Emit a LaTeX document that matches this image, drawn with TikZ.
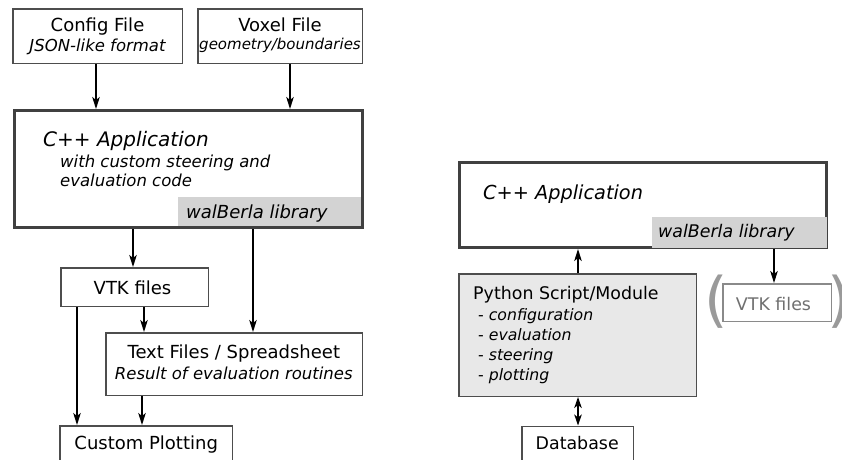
\documentclass[tikz,border=0pt]{standalone}
\usepackage{fontspec}
\setmainfont{DejaVu Sans}
\usetikzlibrary{arrows.meta}
\definecolor{edge}{HTML}{4D4D4D}
\definecolor{thickedge}{HTML}{404040}
\definecolor{libfill}{HTML}{D3D3D3}
\definecolor{pyfill}{HTML}{E8E8E8}
\definecolor{faintedge}{HTML}{8A8A8A}
\definecolor{fainttext}{HTML}{707070}
\definecolor{parengray}{HTML}{9A9A9A}
\newcommand\fsz[1]{\fontsize{#1}{#1}\selectfont}
\begin{document}
\begin{tikzpicture}[x=1pt,y=-1pt,
  box/.style={draw=edge,line width=1.5pt,fill=white,inner sep=0pt},
  thickbox/.style={draw=thickedge,line width=3pt,fill=white,inner sep=0pt},
  libbox/.style={fill=libfill,inner sep=0pt},
  pybox/.style={draw=edge,line width=1.5pt,fill=pyfill,inner sep=0pt},
  faintbox/.style={draw=faintedge,line width=1.5pt,fill=white,inner sep=0pt},
  lbl/.style={inner sep=0pt,anchor=base},
  lblw/.style={inner sep=0pt,anchor=base west},
  arr/.style={-{Stealth[length=12pt,width=7.5pt,inset=3pt]},line width=1.5pt,black},
  darr/.style={{Stealth[length=11pt,width=7.5pt,inset=3pt]}-{Stealth[length=11pt,width=7.5pt,inset=3pt]},line width=1.5pt,black}
]
\useasboundingbox (0,0) rectangle (842,459);
\clip (0,0) rectangle (842,459);
\fill[white] (0,0) rectangle (842,459);

% ---------------- left diagram ----------------
\node[box,minimum width=169.5pt,minimum height=54.5pt] (config) at (97.5,36) {};
\node[lbl,font=\fsz{18}] (configA) at (97.5,31.7) {Config File};
\node[lbl,font=\fsz{16.5}\itshape] (configB) at (97.5,51.7) {JSON-like format};

\node[box,minimum width=164.5pt,minimum height=54.5pt] (voxel) at (280,36) {};
\node[lbl,font=\fsz{18}] (voxelA) at (280,31.7) {Voxel File};
\node[lbl,font=\fsz{15}\itshape] (voxelB) at (280,49.3) {geometry/boundaries};

\node[thickbox,minimum width=348.3pt,minimum height=117pt] (cppL) at (188.3,169) {};
\node[libbox,minimum width=183pt,minimum height=28.5pt] (libL) at (269.5,211.25) {};
\node[lblw,font=\fsz{20}\itshape] (cppLA) at (43,146.7) {C++ Application};
\node[lblw,font=\fsz{16.5}\itshape] (cppLB) at (60,167) {with custom steering and};
\node[lblw,font=\fsz{16.5}\itshape] (cppLC) at (60,186.7) {evaluation code};
\node[lblw,font=\fsz{18}\itshape] (libLA) at (186,218.3) {walBerla library};

\node[box,minimum width=147.5pt,minimum height=38.5pt] (vtkL) at (134.5,287) {};
\node[lbl,font=\fsz{18}] (vtkLA) at (132.5,294) {VTK files};

\node[box,minimum width=256.5pt,minimum height=62.5pt] (textL) at (234,364) {};
\node[lbl,font=\fsz{18}] (textLA) at (233.8,358.3) {Text Files / Spreadsheet};
\node[lbl,font=\fsz{16.5}\itshape] (textLB) at (233.8,379.3) {Result of evaluation routines};

\node[box,minimum width=172.5pt,minimum height=37.5pt] (plotL) at (146,444.5) {};
\node[lbl,font=\fsz{18}] (plotLA) at (146.2,449.3) {Custom Plotting};

\draw[arr] ([xshift=-1.5pt]config.south) -- ([xshift=-1.5pt]config.south |- cppL.north);
\draw[arr] ([xshift=10pt]voxel.south) -- ([xshift=10pt]voxel.south |- cppL.north);
\draw[arr] ([xshift=-1.5pt]vtkL.north |- cppL.south) -- ([xshift=-1.5pt]vtkL.north);
\draw[arr] ([xshift=19pt]textL.north |- cppL.south) -- ([xshift=19pt]textL.north);
\draw[arr] ([xshift=9.5pt]vtkL.south) -- ([xshift=9.5pt]vtkL.south |- textL.north);
\draw[arr] ([xshift=-57.5pt]vtkL.south) -- ([xshift=-57.5pt]vtkL.south |- plotL.north);
\draw[arr] ([xshift=-4pt]plotL.north |- textL.south) -- ([xshift=-4pt]plotL.north);

% ---------------- right diagram ----------------
\node[thickbox,minimum width=367pt,minimum height=85pt] (cppR) at (643,205) {};
\node[libbox,minimum width=174.5pt,minimum height=30.5pt] (libR) at (739.25,232.25) {};
\node[lblw,font=\fsz{19.3}\itshape] (cppRA) at (483,199) {C++ Application};
\node[lblw,font=\fsz{17.4}\itshape] (libRA) at (658,237.3) {walBerla library};

\node[pybox,minimum width=237.5pt,minimum height=122.5pt] (pyR) at (577.5,335) {};
\node[lblw,font=\fsz{17.4}] (pyRA) at (473,299.3) {Python Script/Module};
\node[lblw,font=\fsz{15.7}] (pyRB) at (478,320) {- \textit{configuration}};
\node[lblw,font=\fsz{15.7}] (pyRC) at (478,340) {- \textit{evaluation}};
\node[lblw,font=\fsz{15.7}] (pyRD) at (478,360) {- \textit{steering}};
\node[lblw,font=\fsz{15.7}] (pyRE) at (478,380) {- \textit{plotting}};

\node[box,minimum width=111.5pt,minimum height=35.5pt] (dbR) at (577.5,444) {};
\node[lbl,font=\fsz{17.4}] (dbRA) at (577.2,449) {Database};

\node[faintbox,minimum width=108.5pt,minimum height=37.5pt] (vtkR) at (777,302.5) {};
\node[lbl,font=\fsz{17.4},text=fainttext] (vtkRA) at (773.5,310) {VTK files};
\node[lbl,font=\fsz{60},text=parengray] (parL) at (716,320) {(};
\node[lbl,font=\fsz{60},text=parengray] (parR) at (839,320) {)};

\draw[arr] ([xshift=0.5pt]pyR.north) -- ([xshift=0.5pt]pyR.north |- cppR.south);
\draw[darr] ([xshift=0.5pt]pyR.south) -- ([xshift=0.5pt]pyR.south |- dbR.north);
\draw[arr] ([xshift=-3pt]vtkR.north |- cppR.south) -- ([xshift=-3pt]vtkR.north);
\end{tikzpicture}
\end{document}
